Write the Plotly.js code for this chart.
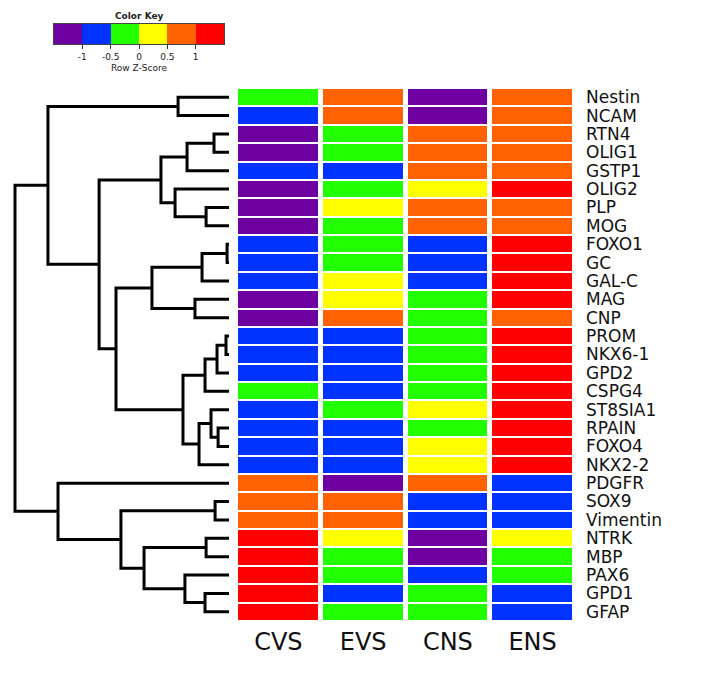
<!DOCTYPE html>
<html>
<head>
<meta charset="utf-8">
<script src="https://cdn.plot.ly/plotly-3.0.1.min.js"></script>
<style>html,body{margin:0;padding:0;background:#fff;}#chart{width:701px;height:677px;}</style>
</head>
<body>
<div id="chart"></div>
<script>
// ---- Data ----
const samples = ['CVS', 'EVS', 'CNS', 'ENS'];
const genes = ['Nestin','NCAM','RTN4','OLIG1','GSTP1','OLIG2','PLP','MOG','FOXO1','GC','GAL-C','MAG','CNP',
  'PROM','NKX6-1','GPD2','CSPG4','ST8SIA1','RPAIN','FOXO4','NKX2-2','PDGFR','SOX9','Vimentin',
  'NTRK','MBP','PAX6','GPD1','GFAP'];
// Row z-scores
const cvs = [-0.25,-0.75,-1.25,-1.25,-0.75,-1.25,-1.25,-1.25,-0.75,-0.75,-0.75,-1.25,-1.25,
  -0.75,-0.75,-0.75,-0.25,-0.75,-0.75,-0.75,-0.75,0.75,0.75,0.75,1.25,1.25,1.25,1.25,1.25];
const evs = [0.75,0.75,-0.25,-0.25,-0.75,-0.25,0.25,-0.25,-0.25,-0.25,0.25,0.25,0.75,
  -0.75,-0.75,-0.75,-0.75,-0.25,-0.75,-0.75,-0.75,-1.25,0.75,0.75,0.25,-0.25,-0.25,-0.75,-0.25];
const cns = [-1.25,-1.25,0.75,0.75,0.75,0.25,0.75,0.75,-0.75,-0.75,-0.75,-0.25,-0.25,
  -0.25,-0.25,-0.25,-0.25,0.25,-0.25,0.25,0.25,0.75,-0.75,-0.75,-1.25,-1.25,-0.75,-0.25,-0.25];
const ens = [0.75,0.75,0.75,0.75,0.75,1.25,0.75,0.75,1.25,1.25,1.25,1.25,0.75,
  1.25,1.25,1.25,1.25,1.25,1.25,1.25,1.25,-0.75,-0.75,-0.75,0.25,-0.25,-0.25,-0.75,-0.75];
// Row dendrogram (hclust-style merges: negative = leaf number in display order, positive = earlier merge)
const mergeLeft  = [-9,-14,-19,2,-23,-3,-18,-7,-25,4,-28,1,7,-12,6,-27,10,-1,-6,15,12,9,5,21,20,18,-22,26];
const mergeRight = [-10,-15,-20,-16,-24,-4,3,-8,-26,-17,-29,-11,-21,-13,-5,11,13,-2,8,19,14,16,22,17,24,25,23,27];
const mergeHeight = [0.09,0.14,0.51,0.56,0.65,0.70,0.84,1.07,1.07,1.12,1.12,1.26,1.40,1.59,1.96,2.06,2.15,2.38,2.52,3.18,3.60,3.97,5.05,5.28,6.07,8.46,7.99,10.0];
// Colour key
const keyBreaks = [-1.25,-0.75,-0.25,0.25,0.75,1.25];
const keyTicks = [-1,-0.5,0,0.5,1];
const keyTickText = ['-1','-0.5','0','0.5','1'];

// ---- Styling ----
const colors = ['#6E00A2','#0033FF','#22FF00','#FFFF00','#FF6200','#FF0000'];
const cs = [];
colors.forEach((c,i)=>{cs.push([i/6,c]);cs.push([(i+1)/6,c]);});

const W = 701, H = 677;
const fx = p => p / W;
const fy = p => 1 - p / H;

const z = genes.map((g,i)=>[cvs[i],evs[i],cns[i],ens[i]]);
const yIdx = genes.map((g,i)=>i);

// dendrogram segments
const pos = [], hgt = [];
function nodeInfo(k){
  if (k < 0) return {y: -k - 1, h: 0};
  return {y: pos[k-1], h: hgt[k-1]};
}
const dx = [], dy = [];
for (let i = 0; i < mergeLeft.length; i++) {
  const a = nodeInfo(mergeLeft[i]), b = nodeInfo(mergeRight[i]);
  const h = mergeHeight[i];
  dx.push(a.h, h, h, b.h, null);
  dy.push(a.y, a.y, b.y, b.y, null);
  pos.push((a.y + b.y) / 2);
  hgt.push(h);
}

const maxH = 10;
const pxPerUnit = 214 / maxH;
const pad = 2 / pxPerUnit;

const traces = [
  {type:'heatmap', x:[0,1,2,3], y:yIdx, z:z, colorscale:cs, zmin:-1.5, zmax:1.5,
   showscale:false, xgap:5, ygap:2, xaxis:'x', yaxis:'y', hoverinfo:'skip'},
  {type:'scatter', mode:'lines', x:dx, y:dy, xaxis:'x2', yaxis:'y',
   line:{color:'#000', width:3}, hoverinfo:'skip', showlegend:false},
  {type:'heatmap', x:keyBreaks, y:[0], z:[keyBreaks], colorscale:cs, zmin:-1.5, zmax:1.5,
   showscale:false, xaxis:'x3', yaxis:'y3', hoverinfo:'skip'}
];

const layout = {
  width: W, height: H,
  margin: {l:0, r:0, t:0, b:0},
  paper_bgcolor: '#fff', plot_bgcolor: '#fff',
  showlegend: false,
  font: {family: 'DejaVu Sans, Arial, sans-serif', color: '#000'},
  xaxis: {domain:[fx(236), fx(575)], range:[-0.5,3.5], tickvals:[0,1,2,3], ticktext:samples,
    ticks:'', showgrid:false, zeroline:false, showline:false, anchor:'y',
    tickfont:{size:24, color:'#111'}, ticklabelstandoff:4},
  yaxis: {domain:[fy(621), fy(88)], range:[28.5,-0.5], tickvals:yIdx, ticktext:genes,
    side:'right', anchor:'x', ticks:'', showgrid:false, zeroline:false, showline:false,
    tickfont:{size:17, color:'#111'}, ticklabelstandoff:10},
  xaxis2: {domain:[fx(13), fx(231)], range:[maxH+pad, -pad], anchor:'y',
    visible:false, showgrid:false, zeroline:false},
  xaxis3: {domain:[fx(54), fx(224)], range:[-1.5,1.5], anchor:'y3',
    tickvals:keyTicks, ticktext:keyTickText, ticks:'outside', ticklen:4, tickwidth:1,
    tickcolor:'#333', showline:true, mirror:true, linecolor:'#444', linewidth:1,
    showgrid:false, zeroline:false, tickfont:{size:9, color:'#222'},
    title:{text:'Row Z-Score', font:{size:9, color:'#222'}, standoff:3}},
  yaxis3: {domain:[fy(44), fy(24)], range:[-0.5,0.5], anchor:'x3', visible:true,
    showticklabels:false, ticks:'', showgrid:false, zeroline:false,
    showline:true, mirror:true, linecolor:'#444', linewidth:1},
  annotations: [
    {text:'<b>Color Key</b>', x:fx(139), y:fy(16), xref:'paper', yref:'paper',
     showarrow:false, font:{size:9, color:'#222'}, xanchor:'center', yanchor:'middle'}
  ]
};

Plotly.newPlot('chart', traces, layout, {staticPlot:true, displayModeBar:false});
</script>
</body>
</html>
